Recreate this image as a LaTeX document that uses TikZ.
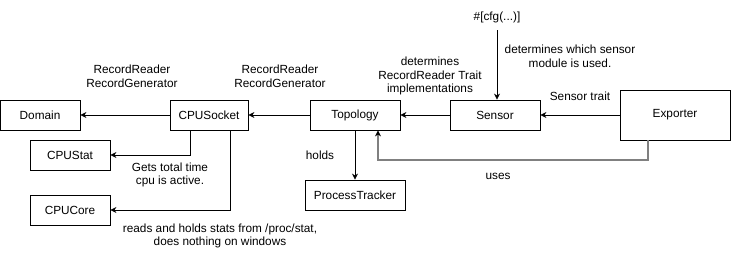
\documentclass[tikz,border=0pt]{standalone}
\usepackage{fontspec}
\setmainfont{Liberation Sans}
\usetikzlibrary{positioning,arrows.meta}

\begin{document}
\begin{tikzpicture}[x=1pt,y=-1pt,>={Stealth[length=6pt,width=6pt]},
  box/.style={draw,line width=0.8pt,fill=white,inner sep=0pt,minimum height=30pt,font=\fontsize{11.8}{14}\selectfont},
  lbl/.style={align=center,inner sep=0pt,font=\fontsize{11.8}{13.8}\selectfont},
  link/.style={->,line width=0.8pt}]
\useasboundingbox (0,0) rectangle (731,260);
\node[box,minimum width=80pt] (domain) at (40,115) {Domain};
\node[box,minimum width=78pt] (socket) at (209,115) {CPUSocket};
\node[box,minimum width=80pt] (stat) at (70,155) {CPUStat};
\node[box,minimum width=80pt] (core) at (70,210) {CPUCore};
\node[box,minimum width=90pt] (topo) at (355,115) {Topology};
\node[box,minimum width=90pt] (sensor) at (495,115) {Sensor};
\node[box,minimum width=110pt,minimum height=50pt] (exporter) at (675,115) {Exporter};
\node[box,minimum width=100pt] (tracker) at (355,195) {ProcessTracker};
\node[lbl] (cfg) at (497,17) {\#[cfg(...)]};
\coordinate (cfgend) at (497,30);
% connectors
\draw[link] (socket) -- (domain);
\draw[link] (topo) -- (socket);
\draw[link] (sensor) -- (topo);
\draw[link] (exporter) -- (sensor);
\draw[link] (socket.south -| 190,0) |- (stat);
\draw[link] (socket.south -| 230,0) |- (core);
\draw[link] (topo) -- (tracker);
\draw[link] (cfgend) -- (cfgend |- sensor.north);
\draw[->,line width=1.4pt,draw=gray,>={Stealth[length=6pt,width=6pt,black]}]
  (exporter.south -| 648,0) -- (648,160) -| (topo.south -| 378,0);
% labels
\node[lbl] (rr1) at (132,76) {RecordReader\\RecordGenerator};
\node[lbl] (rr2) at (280,76) {RecordReader\\RecordGenerator};
\node[lbl] (gets) at (170,175) {Gets total time\\cpu is active.};
\node[lbl] (reads) at (220,236) {reads and holds stats from /proc/stat,\\does nothing on windows};
\node[lbl] (holds) at (320,155) {holds};
\node[lbl] (determ) at (430,76) {determines\\RecordReader Trait\\implementations};
\node[lbl] (which) at (570,56) {determines which sensor\\module is used.};
\node[lbl] (trait) at (580,96) {Sensor trait};
\node[lbl] (uses) at (498,176) {uses};
\end{tikzpicture}
\end{document}
